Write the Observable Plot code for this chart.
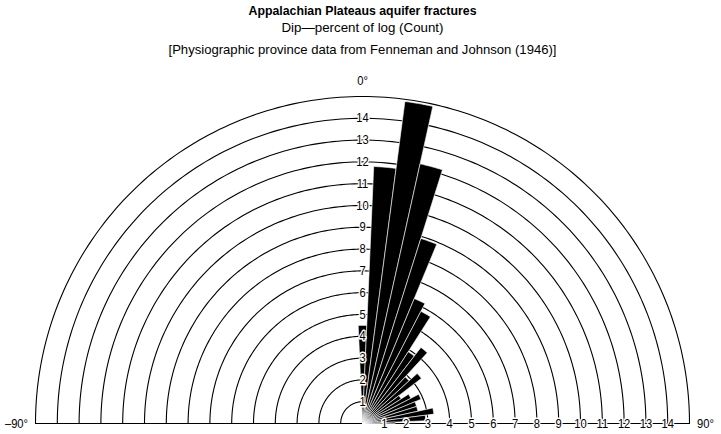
<!DOCTYPE html>
<html><head><meta charset="utf-8">
<script src="https://cdn.jsdelivr.net/npm/d3@7"></script>
<script src="https://cdn.jsdelivr.net/npm/@observablehq/plot@0.6"></script>
<style>body{margin:0;background:#fff;}</style>
</head><body><div id="chart"></div>
<script>
// Dip bins (degrees, bin centers) and percent of log(count)
const dipBins    = [0, 5, 10, 15, 20, 25, 30, 35, 40, 45, 50, 55, 60, 65, 70, 75, 80, 85, 90];
const percentLog = [4.5, 11.8, 14.9, 12.2, 8.9, 6.2, 5.8, 3.9, 4.4, 2.9, 3.4, 2.1, 2.5, 2.9, 2.6, 2.6, 3.3, 2.9, 1.5];
const ringValues = [1, 2, 3, 4, 5, 6, 7, 8, 9, 10, 11, 12, 13, 14, 15];
const tickLabels = [1, 2, 3, 4, 5, 6, 7, 8, 9, 10, 11, 12, 13, 14];
const binWidth = 5;
const titleText = "Appalachian Plateaus aquifer fractures";
const subtitleText = "Dip\u2014percent of log (Count)";
const sourceText = "[Physiographic province data from Fenneman and Johnson (1946)]";

const FONT = "'Liberation Sans', Arial, sans-serif";

function pol(r, deg) {
  const a = deg * Math.PI / 180;
  return {x: r * Math.sin(a), y: r * Math.cos(a)};
}

const ringPts = ringValues.flatMap(r =>
  d3.range(-90, 90.001, 1).map(a => ({ring: r, ...pol(r, a)})));

const wedgePts = dipBins.flatMap((b, i) => {
  const r = percentLog[i];
  const a0 = Math.max(-90, b - binWidth / 2), a1 = Math.min(90, b + binWidth / 2);
  const arc = d3.range(a0, a1 + 0.0001, 0.25).map(a => ({bin: b, ...pol(r, a)}));
  return [{bin: b, x: 0, y: 0}, ...arc, {bin: b, x: 0, y: 0}];
});

const chart = Plot.plot({
  width: 721, height: 434,
  marginLeft: 35, marginRight: 32, marginTop: 96, marginBottom: 11,
  x: {domain: [-15, 15], axis: null},
  y: {domain: [0, 15], axis: null},
  style: {fontFamily: FONT, fontSize: "13px", background: "white", color: "black"},
  marks: [
    Plot.line(ringPts, {x: "x", y: "y", z: "ring", stroke: "black", strokeWidth: 1.1}),
    Plot.ruleY([0], {x1: -15, x2: 15, stroke: "black", strokeWidth: 1.1}),
    Plot.line(wedgePts, {x: "x", y: "y", z: "bin", fill: "black", stroke: "white", strokeWidth: 0.6, curve: "linear"}),
    Plot.text(tickLabels, {x: 0, y: d => d, text: d => String(d), fill: "black", stroke: "white", strokeWidth: 3, fontSize: 13}),
    Plot.text(tickLabels, {x: d => d, y: 0, text: d => String(d), fill: "black", stroke: "white", strokeWidth: 3, fontSize: 13}),
    Plot.text(["0\u00b0"], {x: 0, y: 15, dy: -16, fontSize: 13}),
    Plot.text(["\u201390\u00b0"], {x: -15, y: 0, dx: -19, fontSize: 13}),
    Plot.text(["90\u00b0"], {x: 15, y: 0, dx: 16, fontSize: 13}),
    Plot.text([titleText], {frameAnchor: "top", dy: -86, lineAnchor: "middle", fontWeight: "bold", fontSize: 13}),
    Plot.text([subtitleText], {frameAnchor: "top", dy: -69, lineAnchor: "middle", fontSize: 13.3}),
    Plot.text([sourceText], {frameAnchor: "top", dy: -47, lineAnchor: "middle", fontSize: 13.3})
  ]
});
document.getElementById("chart").appendChild(chart);
// Emulate a condensed typeface: fixed widths for the heading lines, uniform squeeze elsewhere
const headingWidths = new Map([[titleText, 228], [subtitleText, 162], [sourceText, 388]]);
const CONDENSE = 0.86;
chart.querySelectorAll("text").forEach(t => {
  const L = t.getComputedTextLength();
  if (!(L > 0)) return;
  const key = t.textContent;
  const w = headingWidths.has(key) ? headingWidths.get(key) : L * CONDENSE;
  t.setAttribute("textLength", w.toFixed(2));
  t.setAttribute("lengthAdjust", "spacingAndGlyphs");
});
</script>
</body></html>
